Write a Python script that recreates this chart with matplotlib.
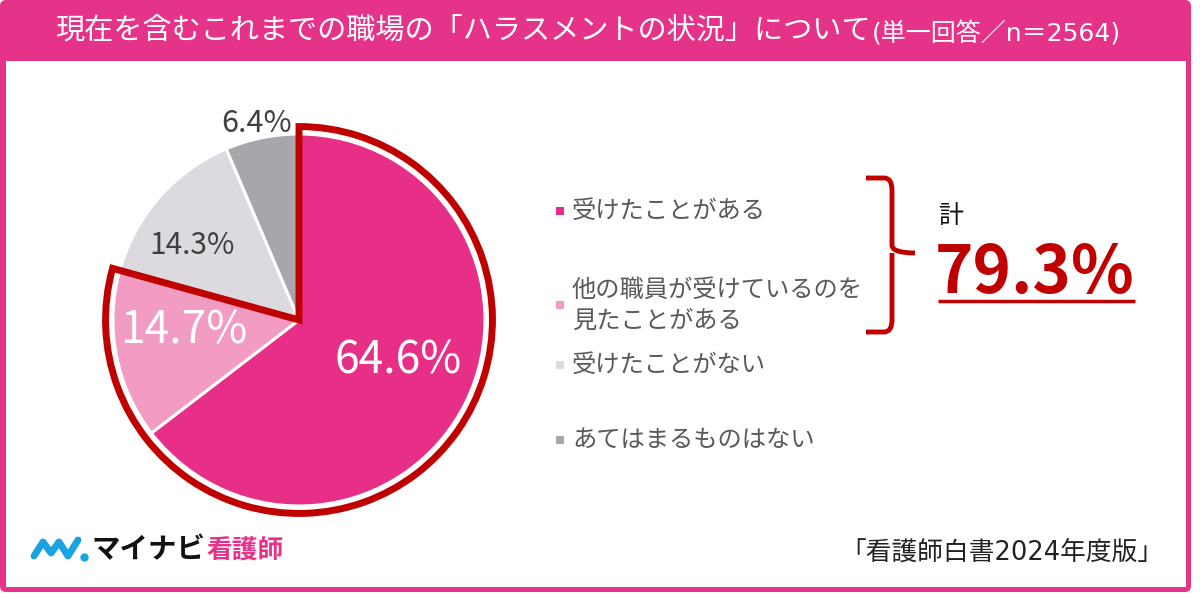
import matplotlib
matplotlib.use("Agg")
import matplotlib.pyplot as plt
from matplotlib.patches import Wedge, Rectangle, FancyBboxPatch
from matplotlib.path import Path
from matplotlib.patches import PathPatch

plt.rcParams['font.family'] = ['Noto Sans CJK JP', 'DejaVu Sans']
NUMFONT = ['DejaVu Sans', 'Noto Sans CJK JP']

# ---- data ----
categories = ["受けたことがある", "他の職員が受けているのを\n見たことがある", "受けたことがない", "あてはまるものはない"]
values = [64.6, 14.7, 14.3, 6.4]
labels = ["64.6%", "14.7%", "14.3%", "6.4%"]
total_label = "79.3%"
title = "現在を含むこれまでの職場の「ハラスメントの状況」について"
subtitle = "(単一回答／n＝2564)"
source = "「看護師白書2024年度版」"

colors = ["#E72F87", "#F29BC3", "#DDDADF", "#A9A6AB"]
PINK = "#E6338A"
RED = "#C00000"

W, H = 1200, 594
fig = plt.figure(figsize=(12, 5.94), dpi=100)

# background / frame (pixel coordinates)
bg = fig.add_axes([0, 0, 1, 1], zorder=0)
bg.set_xlim(0, W); bg.set_ylim(H, 0); bg.axis('off')
bg.add_patch(FancyBboxPatch((0, 0), 1191, 592, boxstyle="round,pad=0,rounding_size=6",
                            facecolor=PINK, edgecolor='none'))
bg.add_patch(Rectangle((6, 61), 1180, 526, facecolor='white', edgecolor='none'))

# pie
cx, cy, R = 299, 320, 186
half = 200
ax = fig.add_axes([(cx - half) / W, (H - cy - half) / H, 2 * half / W, 2 * half / H], zorder=1)
ax.set_facecolor('none')
ax.pie(values, colors=colors, startangle=90, counterclock=False,
       wedgeprops=dict(edgecolor='white', linewidth=2.2), radius=1.0)
ax.set_xlim(-half / R, half / R); ax.set_ylim(-half / R, half / R)
ax.set_aspect('equal')
ax.axis('off')
share = (values[0] + values[1]) / 100.0
ax.add_patch(Wedge((0, 0), 1.04, 90 - 360 * share, 90, fill=False, edgecolor=RED,
                   linewidth=5, joinstyle='miter'))

# overlay for text
top = fig.add_axes([0, 0, 1, 1], zorder=2)
top.set_xlim(0, W); top.set_ylim(H, 0); top.axis('off')
top.patch.set_visible(False)

top.text(55, 31, title, color='white', fontsize=21, va='center', ha='left')
top.text(872, 34, subtitle, color='white', fontsize=18, va='center', ha='left', family=NUMFONT)

# pie labels
top.text(398, 360, labels[0], color='white', fontsize=32, ha='center', va='center')
top.text(184, 330, labels[1], color='white', fontsize=32, ha='center', va='center')
top.text(192, 245, labels[2], color='#404040', fontsize=21.5, ha='center', va='center')
top.text(257, 123, labels[3], color='#404040', fontsize=22, ha='center', va='center')

# legend
leg_y = [211, 305, 365, 440]
for c, lab, y in zip(colors, categories, leg_y):
    top.add_patch(Rectangle((556, y - 4), 8, 8, facecolor=c, edgecolor='none'))
    top.text(572, y, lab, color='#595959', fontsize=17.5, ha='left', va='center', linespacing=1.25)

# bracket
verts = [(866, 178), (884, 178), (892, 178), (892, 190), (892, 245), (892, 253), (915, 253),
         (892, 253), (892, 261), (892, 320), (892, 332), (884, 332), (866, 332)]
codes = [Path.MOVETO, Path.LINETO, Path.CURVE3, Path.CURVE3, Path.LINETO, Path.CURVE3, Path.LINETO,
         Path.MOVETO, Path.CURVE3, Path.LINETO, Path.CURVE3, Path.CURVE3, Path.LINETO]
top.add_patch(PathPatch(Path(verts, codes), facecolor='none', edgecolor=RED, linewidth=3.5,
                        capstyle='butt'))

top.text(938, 216, "計", color='#111111', fontsize=18, ha='left', va='center')
top.text(935, 273, total_label, color=RED, fontsize=47, fontweight='bold', ha='left', va='center')
top.plot([938, 1135], [301, 301], color=RED, linewidth=2.5, solid_capstyle='butt')

# footer
top.text(1163, 553, source, color='#222222', fontsize=18.5, ha='right', va='center', family=NUMFONT)

# logo
top.plot([34, 43, 51, 59, 68, 78], [556, 542, 553, 542, 556, 540], color='#1AA3E0', linewidth=5,
         solid_capstyle='round', solid_joinstyle='round')
top.plot([84], [557], marker='o', color='#1AA3E0', markersize=5)
top.text(91, 550, "マイナビ", color='#111111', fontsize=20.5, fontweight='bold', ha='left', va='center')
top.text(206, 551, "看護師", color=PINK, fontsize=18.5, fontweight='bold', ha='left', va='center')

fig.savefig("out.png", dpi=100)
